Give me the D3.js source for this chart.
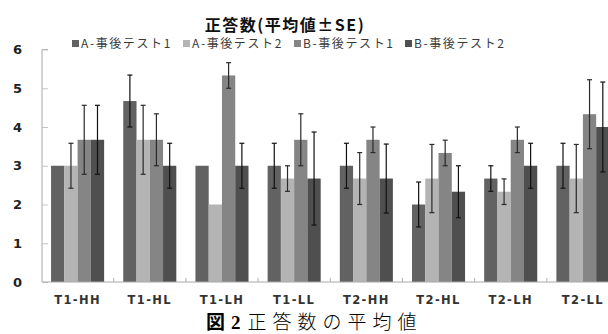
<!DOCTYPE html>
<html>
<head>
<meta charset="utf-8">
<script src="https://cdn.jsdelivr.net/npm/d3@7"></script>
<style>
  html, body { margin: 0; padding: 0; background: #fff; }
  svg { display: block; }
</style>
</head>
<body>
<svg id="chart" width="608" height="334"></svg>
<script>
// Groups along the x axis
const categories = ["T1-HH", "T1-HL", "T1-LH", "T1-LL", "T2-HH", "T2-HL", "T2-LH", "T2-LL"];
// Series (legend order)
const seriesNames = ["A-事後テスト1", "A-事後テスト2", "B-事後テスト1", "B-事後テスト2"];
// Mean values per series, one per category
const meanA1 = [3.00, 4.67, 3.00, 3.00, 3.00, 2.00, 2.67, 3.00];
const meanA2 = [3.00, 3.67, 2.00, 2.67, 2.67, 2.67, 2.33, 2.67];
const meanB1 = [3.67, 3.67, 5.33, 3.67, 3.67, 3.33, 3.67, 4.33];
const meanB2 = [3.67, 3.00, 3.00, 2.67, 2.67, 2.33, 3.00, 4.00];
// Standard errors per series
const seA1 = [0.00, 0.67, 0.00, 0.58, 0.58, 0.58, 0.33, 0.58];
const seA2 = [0.58, 0.89, 0.00, 0.33, 0.67, 0.88, 0.33, 0.88];
const seB1 = [0.89, 0.67, 0.33, 0.67, 0.33, 0.33, 0.33, 0.89];
const seB2 = [0.89, 0.58, 0.58, 1.20, 0.89, 0.67, 0.58, 1.16];
const yTicks = [0, 1, 2, 3, 4, 5, 6];

const means = [meanA1, meanA2, meanB1, meanB2];
const ses = [seA1, seA2, seB1, seB2];
const colors = ["#626262", "#b4b4b4", "#858585", "#4f4f4f"];
const errColors = ["#111", "#2a2a2a", "#2a2a2a", "#111"];

const svg = d3.select("#chart");

const rows = [];
categories.forEach((c, ci) => {
  seriesNames.forEach((s, si) => {
    rows.push({ cat: c, series: s, si, value: means[si][ci], se: ses[si][ci] });
  });
});

const x0 = d3.scaleBand().domain(categories).range([41.5, 619])
  .paddingInner(0.265).paddingOuter(0.1325);
const x1 = d3.scaleBand().domain(seriesNames).range([0, x0.bandwidth()]);
const y = d3.scaleLinear().domain([0, 6]).range([282, 49.5]);

// Bars
svg.append("g").selectAll("rect").data(rows).join("rect")
  .attr("x", d => x0(d.cat) + x1(d.series))
  .attr("y", d => y(d.value))
  .attr("width", x1.bandwidth())
  .attr("height", d => y(0) - y(d.value))
  .attr("fill", d => colors[d.si]);

// Y axis (ticks pointing inward)
const yAxis = svg.append("g").attr("transform", "translate(42,0)")
  .call(d3.axisRight(y).tickValues(yTicks).tickSize(6).tickFormat(""));
yAxis.select(".domain").attr("stroke", "#a8a8a8").attr("d", `M6,${y(6)}H0V${y(0)}`);
yAxis.selectAll(".tick line").attr("stroke", "#c4c4c4");

svg.append("g").selectAll("text").data(yTicks).join("text")
  .attr("x", 22).attr("y", d => y(d)).attr("dy", "0.36em")
  .attr("text-anchor", "end")
  .attr("font-family", "DejaVu Sans").attr("font-weight", "bold")
  .attr("font-size", 13).attr("fill", "#222")
  .text(d => d);

// X axis baseline with small separators between groups
svg.append("line").attr("x1", 42).attr("x2", 608).attr("y1", y(0)).attr("y2", y(0))
  .attr("stroke", "#a8a8a8");
const step = x0.step();
svg.append("g").selectAll("line").data(categories.slice(1)).join("line")
  .attr("x1", d => x0(d) - (step - x0.bandwidth()) / 2)
  .attr("x2", d => x0(d) - (step - x0.bandwidth()) / 2)
  .attr("y1", y(0)).attr("y2", y(0) - 4)
  .attr("stroke", "#b0b0b0");

svg.append("g").selectAll("text").data(categories).join("text")
  .attr("x", d => x0(d) + x0.bandwidth() / 2)
  .attr("y", 303.5)
  .attr("text-anchor", "middle")
  .attr("font-family", "DejaVu Sans").attr("font-weight", "bold")
  .attr("font-size", 11.5).attr("letter-spacing", 1.4).attr("fill", "#333")
  .text(d => d);

// Error bars
const err = svg.append("g").selectAll("g").data(rows.filter(d => d.se > 0)).join("g")
  .attr("stroke", d => errColors[d.si]).attr("stroke-width", 1.2);
const cx = d => x0(d.cat) + x1(d.series) + x1.bandwidth() / 2;
err.append("line")
  .attr("x1", cx).attr("x2", cx)
  .attr("y1", d => y(d.value + d.se)).attr("y2", d => y(d.value - d.se));
err.append("line")
  .attr("x1", d => cx(d) - 2.5).attr("x2", d => cx(d) + 2.5)
  .attr("y1", d => y(d.value + d.se)).attr("y2", d => y(d.value + d.se));
err.append("line")
  .attr("x1", d => cx(d) - 2.5).attr("x2", d => cx(d) + 2.5)
  .attr("y1", d => y(d.value - d.se)).attr("y2", d => y(d.value - d.se));

// Title
svg.append("text").attr("x", 285).attr("y", 31).attr("text-anchor", "middle")
  .attr("font-family", "Noto Sans CJK JP").attr("font-weight", "bold")
  .attr("font-size", 16).attr("letter-spacing", 1.5).attr("fill", "#111")
  .text("正答数(平均値±SE)");

// Legend
const legendX = [72, 183, 294, 405];
const leg = svg.append("g").selectAll("g").data(seriesNames).join("g")
  .attr("transform", (d, i) => `translate(${legendX[i]},44)`);
leg.append("rect").attr("x", 0).attr("y", -4).attr("width", 7).attr("height", 7)
  .attr("fill", (d, i) => colors[i]);
leg.append("text").attr("x", 9).attr("y", 0).attr("dy", "0.36em")
  .attr("font-family", "Noto Sans CJK JP").attr("font-size", 12)
  .attr("letter-spacing", 1.6).attr("fill", "#3a3a3a")
  .text(d => d);

// Figure caption
const cap = svg.append("text").attr("x", 206).attr("y", 328.5)
  .attr("font-size", 19).attr("fill", "#000");
cap.append("tspan").attr("font-family", "Noto Sans CJK JP").attr("font-weight", "bold").text("図");
cap.append("tspan").attr("font-family", "Liberation Serif").attr("font-weight", "bold")
  .attr("dx", 6).text("2");
cap.append("tspan").attr("font-family", "Noto Sans CJK JP").attr("font-weight", "300")
  .attr("dx", 7).attr("letter-spacing", 6).text("正答数の平均値");
</script>
</body>
</html>
